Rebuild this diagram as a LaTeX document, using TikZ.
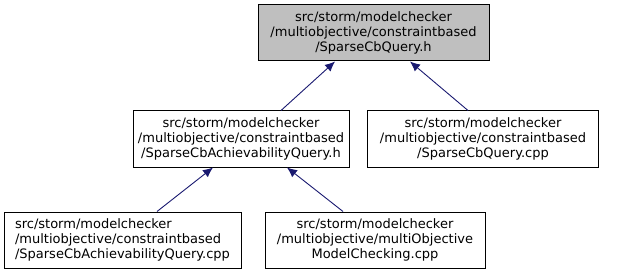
\documentclass[tikz,border=0pt]{standalone}
\usepackage{fontspec}
\setmainfont{DejaVu Sans}
\usetikzlibrary{arrows.meta}

\definecolor{edgeblue}{HTML}{191970}
\definecolor{rootgray}{HTML}{BFBFBF}

\tikzset{
  file/.style={draw, line width=1pt, inner sep=0pt, font=\fontsize{13}{15}\selectfont},
  uses/.style={edgeblue, line width=0.9pt, -{Latex[length=10pt, width=9pt]}}
}

\begin{document}
\begin{tikzpicture}[x=1pt, y=-1pt]
      \useasboundingbox (0,0) rectangle (620,275);
      % files, placed by box centres
      \node[file, fill=rootgray, minimum width=231, minimum height=56, align=center] (query) at (373.5,33) {src/storm/modelchecker\\/multiobjective/constraintbased\\/SparseCbQuery.h};
      \node[file, fill=white, minimum width=216, minimum height=56, align=center] (achh) at (241,139) {src/storm/modelchecker\\/multiobjective/constraintbased\\/SparseCbAchievabilityQuery.h};
      \node[file, fill=white, minimum width=231, minimum height=56, align=center] (querycpp) at (483,139) {src/storm/modelchecker\\/multiobjective/constraintbased\\/SparseCbQuery.cpp};
      \node[file, fill=white, minimum width=237, minimum height=56, align=left] (achcpp) at (122.5,240) {src/storm/modelchecker\\/multiobjective/constraintbased\\/SparseCbAchievabilityQuery.cpp};
      \node[file, fill=white, minimum width=220, minimum height=56, align=center] (mocheck) at (375,240) {src/storm/modelchecker\\/multiobjective/multiObjective\\ModelChecking.cpp};
      % include edges
      \draw[uses] ([xshift=40pt]achh.north) -- ([xshift=-38.5pt]query.south);
      \draw[uses] ([xshift=-15pt]querycpp.north) -- ([xshift=36.5pt]query.south);
      \draw[uses] ([xshift=34.5pt]achcpp.north) -- ([xshift=-28pt]achh.south);
      \draw[uses] ([xshift=-32pt]mocheck.north) -- ([xshift=46pt]achh.south);
\end{tikzpicture}
\end{document}
